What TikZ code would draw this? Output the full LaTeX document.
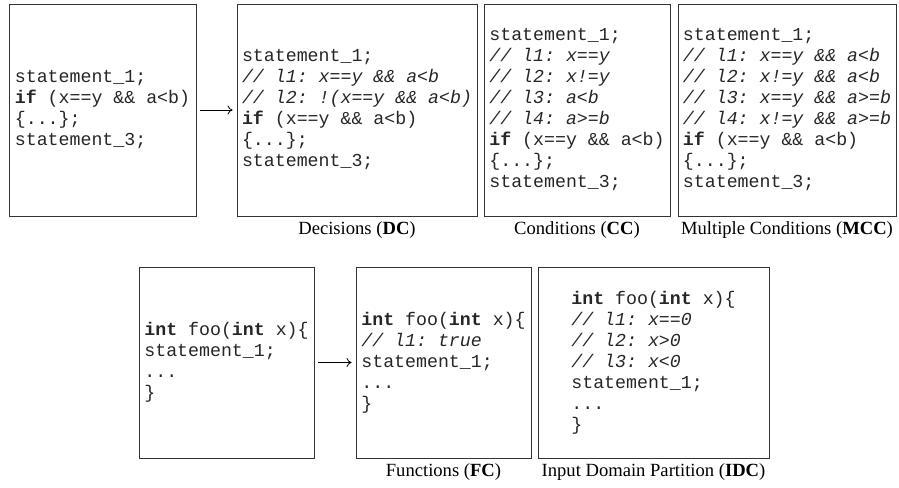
\documentclass[tikz,border=0pt]{standalone}
\usepackage{fontspec}
\setmainfont{Liberation Serif}
\setmonofont{Liberation Mono}
\usetikzlibrary{arrows.meta}
\tikzset{
  codebox/.style={draw=black!80, line width=0.9pt, inner sep=0pt, align=left, text=black!85,
    font=\ttfamily\fontsize{18.25}{21}\selectfont},
  capt/.style={anchor=base, inner sep=0pt, font=\fontsize{18.6}{21}\selectfont},
  flow/.style={-{To[length=5pt,width=9pt]}, line width=0.8pt, shorten <=4pt, shorten >=4pt},
}
\newcommand{\kw}[1]{\textbf{#1}}
\newcommand{\cmt}[1]{\textit{#1}}
\begin{document}
\begin{tikzpicture}[x=1pt,y=-1pt]
\useasboundingbox (0,0) rectangle (899,487);
% top row
\node[codebox, minimum width=187pt, minimum height=212pt] (b1) at (102.5,110)
  {statement\_1;\\
   \kw{if} (x==y \&\& a<b)\\
   \{...\};\\
   statement\_3;};
\node[codebox, minimum width=240pt, minimum height=212pt] (b2) at (357,110)
  {statement\_1;\\
   \cmt{// l1: x==y \&\& a<b}\\
   \cmt{// l2: !(x==y \&\& a<b)}\\
   \kw{if} (x==y \&\& a<b)\\
   \{...\};\\
   statement\_3;};
\node[codebox, minimum width=186pt, minimum height=212pt] (b3) at (577,110)
  {statement\_1;\\
   \cmt{// l1: x==y}\\
   \cmt{// l2: x!=y}\\
   \cmt{// l3: a<b}\\
   \cmt{// l4: a>=b}\\
   \kw{if} (x==y \&\& a<b)\\
   \{...\};\\
   statement\_3;};
\node[codebox, minimum width=218pt, minimum height=212pt] (b4) at (787,110)
  {statement\_1;\\
   \cmt{// l1: x==y \&\& a<b}\\
   \cmt{// l2: x!=y \&\& a<b}\\
   \cmt{// l3: x==y \&\& a>=b}\\
   \cmt{// l4: x!=y \&\& a>=b}\\
   \kw{if} (x==y \&\& a<b)\\
   \{...\};\\
   statement\_3;};
% bottom row
\node[codebox, minimum width=175pt, minimum height=191pt] (b5) at (226.5,362.5)
  {\kw{int} foo(\kw{int} x)\{\\
   statement\_1;\\
   ...\\
   \}};
\node[codebox, minimum width=175pt, minimum height=191pt] (b6) at (443.5,362.5)
  {\kw{int} foo(\kw{int} x)\{\\
   \cmt{// l1: true}\\
   statement\_1;\\
   ...\\
   \}};
\node[codebox, minimum width=231pt, minimum height=191pt] (b7) at (653.5,362.5)
  {\kw{int} foo(\kw{int} x)\{\\
   \cmt{// l1: x==0}\\
   \cmt{// l2: x>0}\\
   \cmt{// l3: x<0}\\
   statement\_1;\\
   ...\\
   \}};
% captions
\node[capt] (c2) at ([yshift=-18pt]b2.south) {Decisions (\textbf{DC})};
\node[capt] (c3) at ([yshift=-18pt]b3.south) {Conditions (\textbf{CC})};
\node[capt] (c4) at ([yshift=-18pt]b4.south) {Multiple Conditions (\textbf{MCC})};
\node[capt] (c6) at ([yshift=-18pt]b6.south) {Functions (\textbf{FC})};
\node[capt] (c7) at ([yshift=-18pt]b7.south) {Input Domain Partition (\textbf{IDC})};
% arrows
\draw[flow] (b1) -- (b2);
\draw[flow] (b5) -- (b6);
\end{tikzpicture}
\end{document}
